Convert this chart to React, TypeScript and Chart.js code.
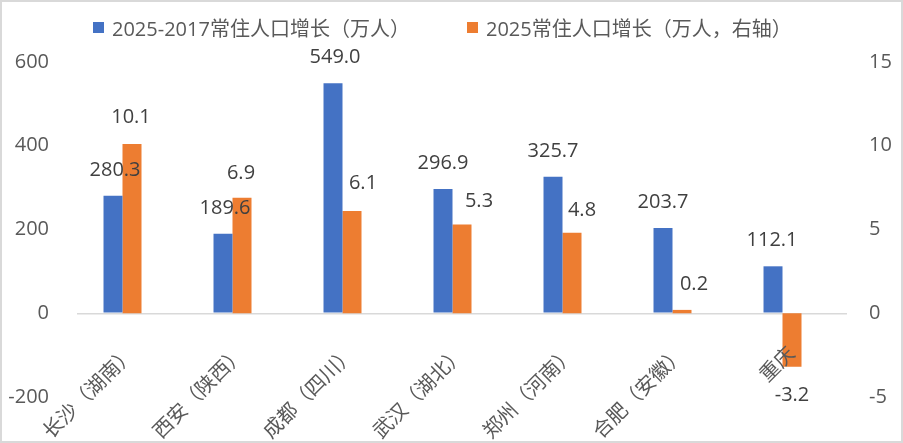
import React, { useEffect, useRef } from 'react';
import { Chart, registerables } from 'chart.js';

Chart.register(...registerables);

const categories = ['长沙（湖南）', '西安（陕西）', '成都（四川）', '武汉（湖北）', '郑州（河南）', '合肥（安徽）', '重庆'];
const growth2017to2025 = [280.3, 189.6, 549.0, 296.9, 325.7, 203.7, 112.1];
const growth2025 = [10.1, 6.9, 6.1, 5.3, 4.8, 0.2, -3.2];
const seriesNames = ['2025-2017常住人口增长（万人）', '2025常住人口增长（万人，右轴）'];
const leftAxisTicks = [-200, 0, 200, 400, 600];
const rightAxisTicks = [-5, 0, 5, 10, 15];

const BLUE = '#4472C4';
const ORANGE = '#ED7D31';
const FONT = '"Open Sans", "Noto Sans CJK SC", sans-serif';

// manual label nudges (layout only), as in the original chart
const labelNudgeX = [
  [2, 2, 2, 0, 0, 0, -1],
  [-1, -1, 11, 17, 10, 12, 0],
];
const labelGapY = [
  [26, 26, 26, 26, 26, 26, 26],
  [27, 24, 28, 23, 23, 26, 28],
];

const dataLabelPlugin = {
  id: 'dataLabels',
  afterDraw(chart: any) {
    const ctx = chart.ctx;
    ctx.save();
    ctx.font = `20px ${FONT}`;
    ctx.fillStyle = '#404040';
    ctx.textAlign = 'center';
    ctx.textBaseline = 'middle';
    [0, 1].forEach((di) => {
      const meta = chart.getDatasetMeta(di);
      meta.data.forEach((bar: any, i: number) => {
        const v = chart.data.datasets[di].data[i];
        if (v == null) return;
        const { x, y } = bar.getProps(['x', 'y'], true);
        const off = labelGapY[di][i];
        const ty = v >= 0 ? y - off : y + off;
        ctx.fillText(Number(v).toFixed(1), x + labelNudgeX[di][i], ty);
      });
    });
    ctx.restore();
  },
};

const legendPlugin = {
  id: 'customLegend',
  afterDraw(chart: any) {
    const ctx = chart.ctx;
    ctx.save();
    ctx.font = `20px ${FONT}`;
    ctx.textBaseline = 'middle';
    ctx.textAlign = 'left';
    const starts = [93, 467];
    const colors = [BLUE, ORANGE];
    starts.forEach((sx, i) => {
      ctx.fillStyle = colors[i];
      ctx.fillRect(sx, 22, 11, 11);
      ctx.fillStyle = '#595959';
      ctx.fillText(chart.data.datasets[i].label, sx + 19, 30);
    });
    ctx.restore();
  },
};

export default function App() {
  const ref = useRef<HTMLCanvasElement | null>(null);

  useEffect(() => {
    document.body.style.margin = '0';
    if (!ref.current) return;
    const chart = new Chart(ref.current, {
      type: 'bar',
      data: {
        labels: categories,
        datasets: [
          {
            label: seriesNames[0],
            data: growth2017to2025,
            backgroundColor: BLUE,
            yAxisID: 'y',
          },
          {
            label: seriesNames[1],
            data: growth2025,
            backgroundColor: ORANGE,
            yAxisID: 'y1',
          },
          {
            label: '',
            data: categories.map(() => null),
            backgroundColor: 'rgba(0,0,0,0)',
            yAxisID: 'y1',
          },
        ],
      },
      options: {
        responsive: false,
        animation: false,
        devicePixelRatio: 1,
        categoryPercentage: 0.518,
        barPercentage: 1,
        layout: { padding: { top: 62, bottom: 46, left: 0, right: 0 } },
        plugins: {
          legend: { display: false },
          tooltip: { enabled: false },
        },
        scales: {
          x: {
            position: { y: 0 } as any,
            z: 1,
            grid: { display: false, drawTicks: false, tickLength: 0 },
            border: { display: false },
            ticks: {
              z: 1,
              autoSkip: false,
              maxRotation: 45,
              minRotation: 45,
              padding: 29,
              color: '#595959',
              font: { size: 20, family: FONT },
            },
          },
          y: {
            position: 'left',
            min: leftAxisTicks[0],
            max: leftAxisTicks[leftAxisTicks.length - 1],
            afterBuildTicks: (scale: any) => {
              scale.ticks = leftAxisTicks.map((v) => ({ value: v }));
            },
            afterFit: (scale: any) => {
              scale.width = 77;
            },
            grid: {
              drawTicks: false,
              color: (c: any) => (c.tick && c.tick.value === 0 ? '#D9D9D9' : 'rgba(0,0,0,0)'),
              lineWidth: 1.5,
            },
            border: { display: false },
            ticks: {
              padding: 28,
              color: '#595959',
              font: { size: 20, family: FONT },
            },
          },
          y1: {
            position: 'right',
            min: rightAxisTicks[0],
            max: rightAxisTicks[rightAxisTicks.length - 1],
            afterBuildTicks: (scale: any) => {
              scale.ticks = rightAxisTicks.map((v) => ({ value: v }));
            },
            afterFit: (scale: any) => {
              scale.width = 56;
            },
            grid: { display: false, drawTicks: false },
            border: { display: false },
            ticks: {
              padding: 22,
              color: '#595959',
              font: { size: 20, family: FONT },
            },
          },
        },
      },
      plugins: [dataLabelPlugin, legendPlugin],
    });
    return () => chart.destroy();
  }, []);

  return (
    <div style={{ position: 'relative', width: 903, height: 443 }}>
      <canvas ref={ref} width={903} height={443} style={{ display: 'block', width: 903, height: 443 }} />
      <div
        style={{
          position: 'absolute',
          left: 0,
          top: 0,
          width: 903,
          height: 443,
          boxSizing: 'border-box',
          border: '2px solid #D9D9D9',
          pointerEvents: 'none',
        }}
      />
    </div>
  );
}
